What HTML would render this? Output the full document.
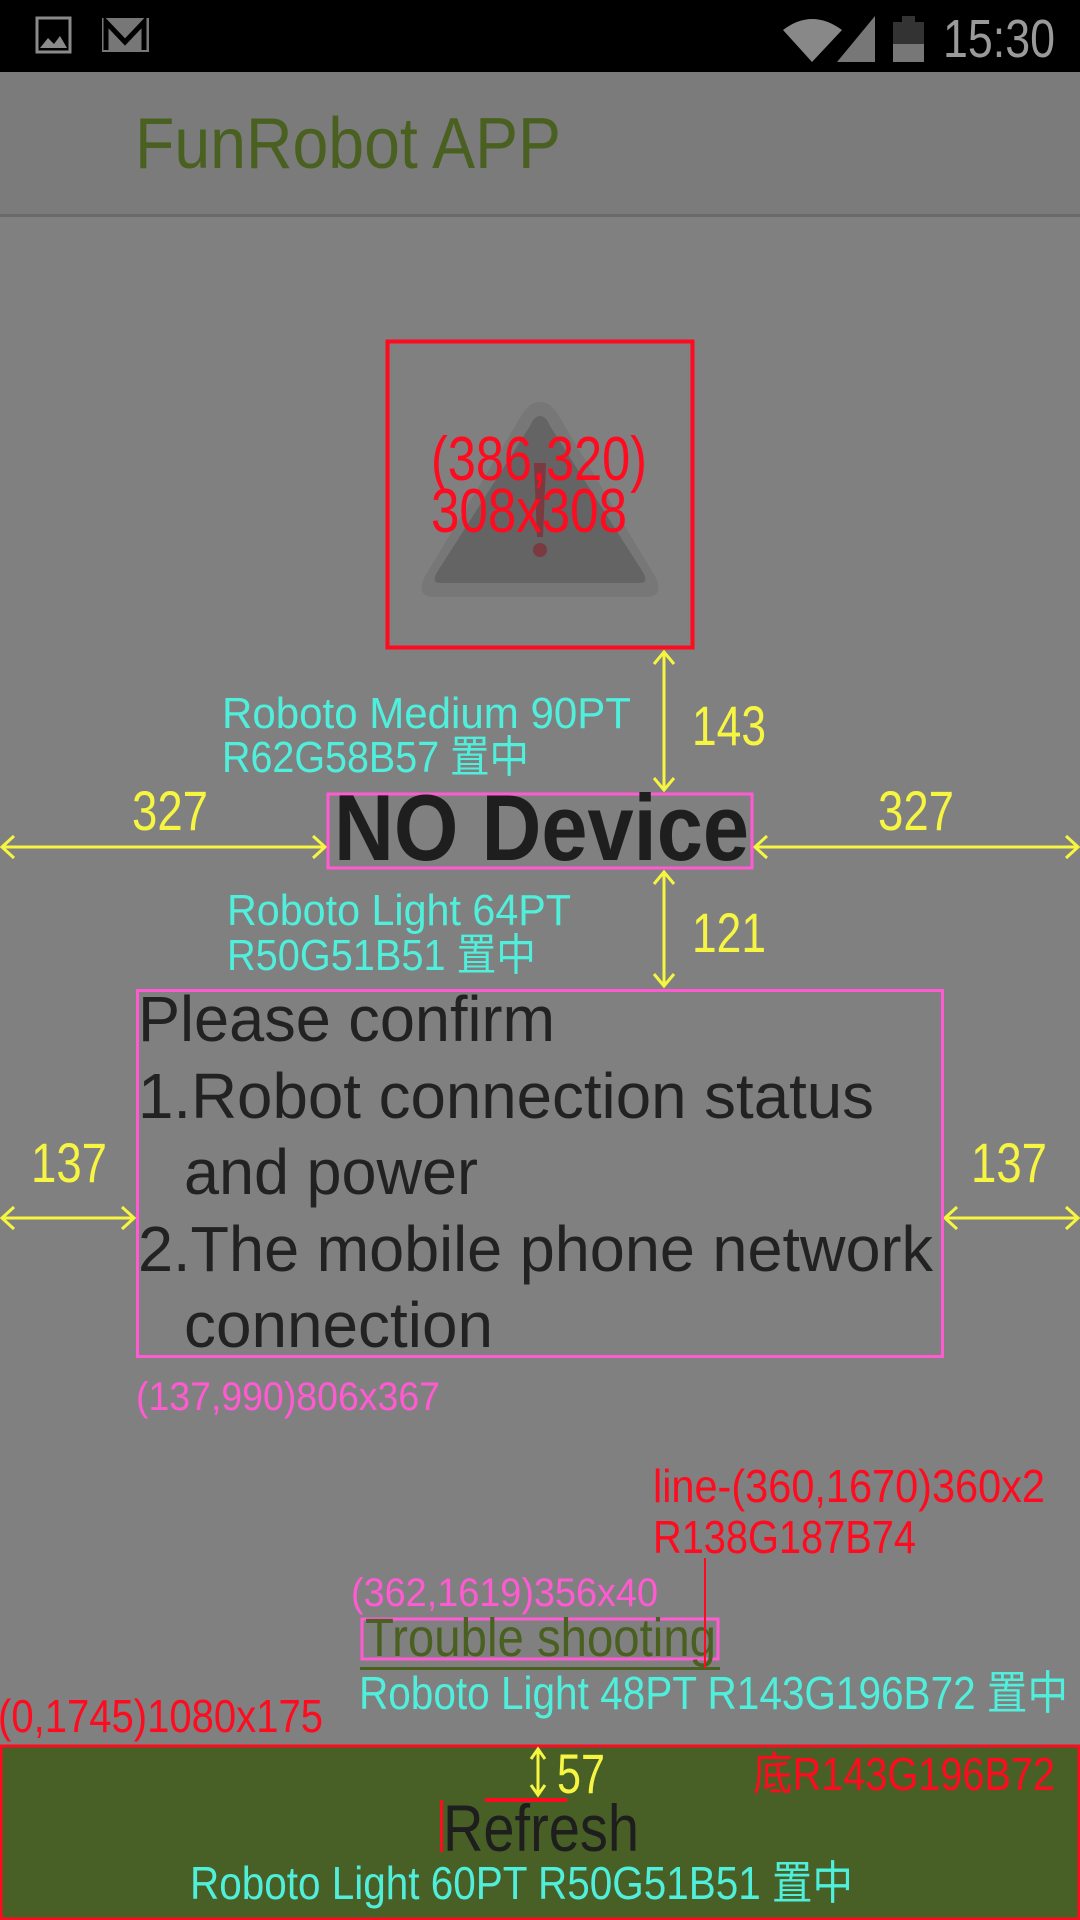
<!DOCTYPE html>
<html><head><meta charset="utf-8"><style>
html,body{margin:0;padding:0;background:#808080;}
svg{display:block;}
text{font-family:"Liberation Sans","Noto Sans CJK TC",sans-serif;}
</style></head><body>
<svg width="1080" height="1920" viewBox="0 0 1080 1920" xmlns="http://www.w3.org/2000/svg">
<rect x="0" y="0" width="1080" height="1920" fill="#808080"/>
<!-- status bar -->
<rect x="0" y="0" width="1080" height="72" fill="#000"/>
<rect x="37" y="18" width="33" height="34" fill="none" stroke="#8a8a8a" stroke-width="3"/>
<path d="M40 48 L48 38 L54 44 L60 36 L67 48 Z" fill="#8a8a8a"/>
<rect x="102" y="18" width="47" height="34" fill="#777"/>
<path d="M106 50 V22 L125 42 L144 22 V50" fill="none" stroke="#000" stroke-width="5"/>
<path d="M783 30 Q812 8 842 30 L812 62 Z" fill="#888"/>
<path d="M837 62 L875 16 V62 Z" fill="#777"/>
<rect x="893" y="22" width="31" height="40" fill="#333"/>
<rect x="893" y="44" width="31" height="18" fill="#777"/>
<rect x="902" y="16" width="13" height="6" fill="#333"/>
<text x="943" y="57" font-size="54" fill="#9a9a9a" textLength="112" lengthAdjust="spacingAndGlyphs">15:30</text>
<!-- app bar -->
<rect x="0" y="72" width="1080" height="143" fill="#7b7b7b"/>
<rect x="0" y="214" width="1080" height="3" fill="#6a6a6a"/>
<text x="135" y="168" font-size="72" fill="#4a6020" textLength="426" lengthAdjust="spacingAndGlyphs">FunRobot APP</text>
<!-- warning icon -->
<path d="M540 402 Q552 402 560 418 L656 578 Q664 597 646 597 L434 597 Q416 597 424 578 L520 418 Q528 402 540 402 Z" fill="#777"/>
<path d="M540 416 Q546 416 550 426 L644 574 Q648 583 640 583 L440 583 Q432 583 436 574 L530 426 Q534 416 540 416 Z" fill="#646464"/>
<path d="M534 463 L546 463 L543 537 L537 537 Z" fill="#7a3a40"/>
<circle cx="540" cy="550" r="7" fill="#7a3a40"/>
<rect x="387.5" y="341.5" width="305" height="306" fill="none" stroke="#ff0a1e" stroke-width="4"/>
<text x="431" y="480" font-size="62" fill="#ff0a1e" textLength="216" lengthAdjust="spacingAndGlyphs">(386,320)</text>
<text x="431" y="532" font-size="62" fill="#ff0a1e" textLength="196" lengthAdjust="spacingAndGlyphs">308x308</text>
<!-- yellow arrows -->
<g stroke="#f5f542" stroke-width="3" fill="none">
<path d="M664 652 V790 M654 664 L664 652 L674 664 M654 778 L664 790 L674 778"/>
<path d="M664 872 V986 M654 884 L664 872 L674 884 M654 974 L664 986 L674 974"/>
<path d="M2 847 H325 M14 836 L2 847 L14 858 M313 836 L325 847 L313 858"/>
<path d="M755 847 H1078 M767 836 L755 847 L767 858 M1066 836 L1078 847 L1066 858"/>
<path d="M2 1218 H134 M14 1207 L2 1218 L14 1229 M122 1207 L134 1218 L122 1229"/>
<path d="M945 1218 H1078 M957 1207 L945 1218 L957 1229 M1066 1207 L1078 1218 L1066 1229"/>
</g>
<g fill="#f5f542">
<text x="692" y="745" font-size="56" textLength="74" lengthAdjust="spacingAndGlyphs">143</text>
<text x="692" y="952" font-size="56" textLength="74" lengthAdjust="spacingAndGlyphs">121</text>
<text x="132" y="830" font-size="56" textLength="76" lengthAdjust="spacingAndGlyphs">327</text>
<text x="878" y="830" font-size="56" textLength="76" lengthAdjust="spacingAndGlyphs">327</text>
<text x="31" y="1182" font-size="56" textLength="76" lengthAdjust="spacingAndGlyphs">137</text>
<text x="971" y="1182" font-size="56" textLength="76" lengthAdjust="spacingAndGlyphs">137</text>
</g>
<!-- cyan labels -->
<g fill="#4fefdc">
<text x="222" y="728" font-size="44" textLength="409" lengthAdjust="spacingAndGlyphs">Roboto Medium 90PT</text>
<text x="222" y="772" font-size="44" textLength="307" lengthAdjust="spacingAndGlyphs">R62G58B57 置中</text>
<text x="227" y="925" font-size="44" textLength="344" lengthAdjust="spacingAndGlyphs">Roboto Light 64PT</text>
<text x="227" y="970" font-size="44" textLength="309" lengthAdjust="spacingAndGlyphs">R50G51B51 置中</text>
<text x="359" y="1709" font-size="46" textLength="709" lengthAdjust="spacingAndGlyphs">Roboto Light 48PT R143G196B72 置中</text>
</g>
<!-- NO Device -->
<rect x="328" y="794" width="424" height="74" fill="none" stroke="#ff5ad2" stroke-width="3"/>
<text x="334" y="860" font-size="94" font-weight="bold" fill="#1e1e1e" textLength="415" lengthAdjust="spacingAndGlyphs">NO Device</text>
<!-- body text -->
<rect x="137.5" y="990.5" width="805" height="366" fill="none" stroke="#ff5ad2" stroke-width="3"/>
<g fill="#222" font-size="64">
<text x="138" y="1041" textLength="417" lengthAdjust="spacingAndGlyphs">Please confirm</text>
<text x="138" y="1118" textLength="736" lengthAdjust="spacingAndGlyphs">1.Robot connection status</text>
<text x="184" y="1194" textLength="294" lengthAdjust="spacingAndGlyphs">and power</text>
<text x="138" y="1271" textLength="795" lengthAdjust="spacingAndGlyphs">2.The mobile phone network</text>
<text x="184" y="1347" textLength="309" lengthAdjust="spacingAndGlyphs">connection</text>
</g>
<text x="136" y="1410" font-size="40" fill="#ff5ad2" textLength="304" lengthAdjust="spacingAndGlyphs">(137,990)806x367</text>
<!-- trouble shooting -->
<text x="653" y="1502" font-size="46" fill="#ff0a1e" textLength="392" lengthAdjust="spacingAndGlyphs">line-(360,1670)360x2</text>
<text x="653" y="1553" font-size="46" fill="#ff0a1e" textLength="263" lengthAdjust="spacingAndGlyphs">R138G187B74</text>
<text x="351" y="1606" font-size="40" fill="#ff5ad2" textLength="307" lengthAdjust="spacingAndGlyphs">(362,1619)356x40</text>
<rect x="362" y="1619" width="356" height="40" fill="none" stroke="#ff5ad2" stroke-width="3"/>
<text x="365" y="1656" font-size="54" fill="#4a6020" textLength="351" lengthAdjust="spacingAndGlyphs">Trouble shooting</text>
<rect x="360" y="1667" width="360" height="3" fill="#4a6020"/>
<rect x="704" y="1558" width="2" height="110" fill="#ff0a1e"/>
<text x="-2" y="1732" font-size="46" fill="#ff0a1e" textLength="325" lengthAdjust="spacingAndGlyphs">(0,1745)1080x175</text>
<!-- bottom bar -->
<rect x="1" y="1746" width="1078" height="173" fill="#486026" stroke="#ff0a1e" stroke-width="3"/>
<path d="M538 1749 V1795 M531 1759 L538 1749 L545 1759 M531 1785 L538 1795 L545 1785" stroke="#f5f542" stroke-width="3" fill="none"/>
<text x="557" y="1793" font-size="56" fill="#f5f542" textLength="48" lengthAdjust="spacingAndGlyphs">57</text>
<rect x="485" y="1798" width="82" height="4" fill="#ff0a1e"/>
<rect x="440" y="1800" width="3" height="52" fill="#ff0a1e"/>
<text x="443" y="1851" font-size="66" fill="#1e1e1e" textLength="196" lengthAdjust="spacingAndGlyphs">Refresh</text>
<text x="753" y="1790" font-size="46" fill="#ff0a1e" textLength="302" lengthAdjust="spacingAndGlyphs">底R143G196B72</text>
<text x="190" y="1899" font-size="46" fill="#4fefdc" textLength="663" lengthAdjust="spacingAndGlyphs">Roboto Light 60PT R50G51B51 置中</text>
</svg>
</body></html>
